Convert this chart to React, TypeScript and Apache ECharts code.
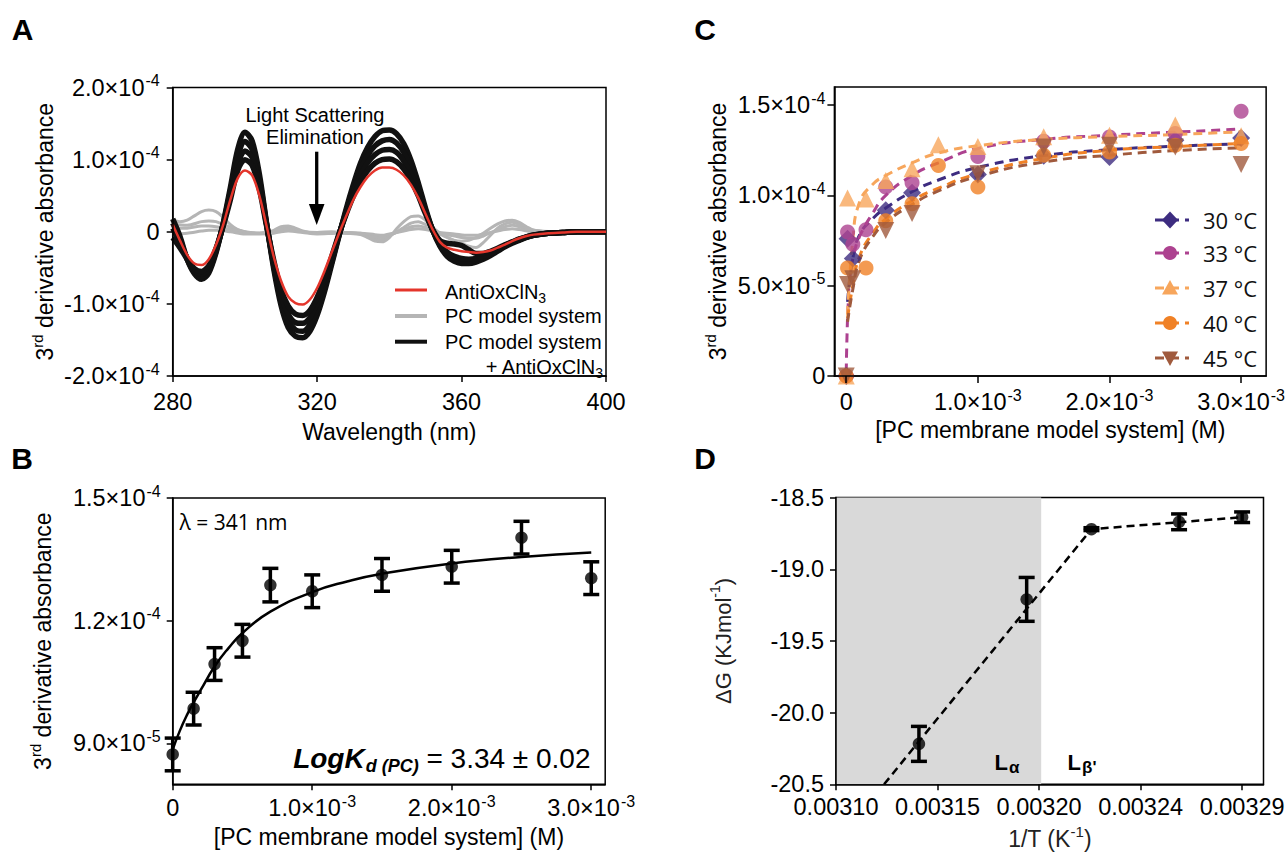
import React, { useEffect, useRef } from "react";
import * as echarts from "echarts";

const FONT = '"Liberation Sans", Arial, Helvetica, sans-serif';
const FONT2 = '"Open Sans", "Liberation Sans", sans-serif';

// ---------------- Panel A : 3rd derivative spectra (values in units of 1e-4) ----------------
const wavelengths = [280,282,284,286,288,290,292,294,296,298,300,302,304,306,308,310,312,314,316,318,320,322,324,326,328,330,332,334,336,338,340,342,344,346,348,350,352,354,356,358,360,362,364,366,368,370,372,374,376,378,380,384,388,392,396,400];
const antiOxSpectrum = [0.10,-0.12,-0.32,-0.44,-0.46,-0.38,-0.18,0.10,0.45,0.74,
  0.85,0.78,0.50,0.08,-0.35,-0.68,-0.90,-0.99,-1.01,-0.94,
  -0.78,-0.55,-0.29,-0.03,0.21,0.44,0.62,0.76,0.85,0.89,
  0.89,0.86,0.78,0.65,0.47,0.25,0.03,-0.14,-0.22,-0.25,
  -0.27,-0.28,-0.29,-0.28,-0.26,-0.22,-0.18,-0.13,-0.09,-0.06,
  -0.04,-0.02,-0.01,0,0,0];
const mixSpectrum1 = [0.18,-0.06,-0.38,-0.58,-0.66,-0.57,-0.29,0.12,0.62,1.14,
  1.38,1.26,0.80,0.12,-0.52,-1.02,-1.33,-1.45,-1.47,-1.38,
  -1.16,-0.84,-0.46,-0.07,0.31,0.65,0.95,1.17,1.32,1.40,
  1.41,1.36,1.22,0.99,0.68,0.33,0.02,-0.20,-0.34,-0.41,
  -0.44,-0.44,-0.42,-0.38,-0.33,-0.27,-0.21,-0.16,-0.12,-0.08,
  -0.05,-0.02,-0.01,0,0,0];
const mixSpectrum2 = [0.12,-0.10,-0.38,-0.56,-0.63,-0.54,-0.27,0.11,0.57,1.04,
  1.25,1.14,0.73,0.11,-0.48,-0.95,-1.23,-1.36,-1.38,-1.29,
  -1.08,-0.78,-0.43,-0.06,0.28,0.59,0.86,1.06,1.19,1.26,
  1.28,1.23,1.10,0.90,0.62,0.30,0.02,-0.18,-0.31,-0.38,
  -0.41,-0.41,-0.39,-0.36,-0.31,-0.26,-0.20,-0.15,-0.11,-0.075,
  -0.05,-0.02,-0.01,0,0,0];
const mixSpectrum3 = [0.05,-0.15,-0.37,-0.53,-0.59,-0.51,-0.25,0.10,0.51,0.94,
  1.12,1.03,0.66,0.10,-0.45,-0.88,-1.14,-1.26,-1.27,-1.19,
  -0.99,-0.71,-0.39,-0.05,0.26,0.54,0.78,0.96,1.07,1.13,
  1.14,1.10,0.98,0.80,0.56,0.28,0.02,-0.16,-0.28,-0.34,
  -0.37,-0.38,-0.37,-0.34,-0.30,-0.25,-0.19,-0.145,-0.105,-0.07,
  -0.045,-0.02,-0.01,0,0,0];
const mixSpectrum4 = [-0.08,-0.22,-0.38,-0.51,-0.55,-0.47,-0.23,0.08,0.45,0.85,
  1.00,0.92,0.59,0.08,-0.40,-0.80,-1.03,-1.14,-1.16,-1.09,
  -0.91,-0.65,-0.35,-0.04,0.24,0.49,0.70,0.85,0.95,1.00,
  1.01,0.97,0.87,0.71,0.50,0.25,0.03,-0.12,-0.16,-0.17,
  -0.19,-0.25,-0.30,-0.30,-0.27,-0.23,-0.18,-0.14,-0.10,-0.07,
  -0.045,-0.02,-0.01,0,0,0];
const pcWl1 = [280,282,284,286,288,290,292,294,296,298,300,302,304,306,308,310,312,314,316,318,320,324,328,332,334,336,338,340,342,344,346,348,350,352,354,356,358,360,362,364,366,368,370,372,374,376,378,380,384,390,400];
const pcSpectrum1 = [0.16,0.14,0.16,0.22,0.28,0.30,0.28,0.20,0.10,0.03,0.0,-0.02,-0.02,-0.01,0.02,0.07,0.08,0.05,0.01,-0.01,-0.01,0.0,-0.02,-0.04,-0.08,-0.13,-0.14,-0.08,0.04,0.14,0.21,0.22,0.16,0.06,-0.02,-0.08,-0.12,-0.13,-0.12,-0.08,-0.02,0.05,0.11,0.15,0.16,0.13,0.07,0.02,0.0,0,0];
const pcWl = [280,284,288,290,292,296,300,304,308,310,312,316,320,326,332,336,338,340,344,346,348,350,354,358,362,364,366,370,372,374,376,380,386,400];
const pcSpectrum2 = [0.10,0.09,0.14,0.15,0.14,0.06,0.0,-0.02,0.0,0.04,0.05,0.0,-0.02,-0.01,-0.03,-0.10,-0.11,-0.06,0.06,0.12,0.14,0.10,-0.03,-0.12,-0.20,-0.22,-0.15,0.05,0.11,0.13,0.10,0.02,0.0,0];
const pcSpectrum3 = [0.05,0.05,0.08,0.08,0.07,0.03,-0.01,-0.02,0.0,0.03,0.04,0.0,-0.01,-0.01,-0.02,-0.07,-0.08,-0.05,0.03,0.07,0.08,0.06,-0.02,-0.06,-0.09,-0.09,-0.06,0.03,0.07,0.09,0.07,0.01,0.0,0];
const pcSpectrum4 = [-0.03,-0.02,0.01,0.02,0.02,0.0,-0.03,-0.03,-0.02,0.0,0.01,-0.01,-0.03,-0.02,-0.02,-0.04,-0.05,-0.03,0.01,0.03,0.04,0.03,-0.01,-0.03,-0.05,-0.05,-0.03,0.01,0.03,0.04,0.03,0.0,0.0,0];

// ---------------- Panel B : titration at 341 nm ----------------
const bConc = [0, 1.5e-4, 3e-4, 5e-4, 7e-4, 1e-3, 1.5e-3, 2e-3, 2.5e-3, 3e-3];
const bAbs = [8.73e-5, 9.85e-5, 1.094e-4, 1.151e-4, 1.287e-4, 1.272e-4, 1.312e-4, 1.332e-4, 1.403e-4, 1.304e-4];
const bErr = [4.0e-6, 4.0e-6, 4.0e-6, 4.0e-6, 4.1e-6, 4.0e-6, 4.0e-6, 4.0e-6, 4.0e-6, 4.0e-6];
const bFitConc = [0, 5e-5, 1e-4, 1.5e-4, 2e-4, 3e-4, 4e-4, 5e-4, 7e-4, 1e-3, 1.25e-3, 1.5e-3, 2e-3, 2.5e-3, 3e-3];
const bFitAbs = [8.85e-5, 9.3e-5, 9.68e-5, 1.0e-4, 1.03e-4, 1.088e-4, 1.133e-4, 1.17e-4, 1.222e-4, 1.27e-4, 1.296e-4, 1.315e-4, 1.34e-4, 1.356e-4, 1.367e-4];
const bYTicks = [9e-5, 1.2e-4, 1.5e-4];
const concTicks = [0, 1e-3, 2e-3, 3e-3];

// ---------------- Panel C : temperatures ----------------
const cTemps = ["30 °C", "33 °C", "37 °C", "40 °C", "45 °C"];
const cConc = [0, 1e-5, 5e-5, 1.5e-4, 3e-4, 5e-4, 7e-4, 1e-3, 1.5e-3, 2e-3, 2.5e-3, 3e-3];
const c30 = [0, 7.6e-5, 6.5e-5, null, 9.17e-5, 1.015e-4, null, 1.115e-4, 1.22e-4, 1.213e-4, 1.305e-4, 1.318e-4];
const c33 = [0, 7.97e-5, 7.3e-5, 8.1e-5, 1.046e-4, 1.07e-4, null, 1.215e-4, 1.3e-4, 1.323e-4, 1.342e-4, 1.466e-4];
const c37 = [0, 9.85e-5, null, 9.8e-5, 1.083e-4, 1.148e-4, 1.28e-4, 1.271e-4, 1.324e-4, 1.333e-4, 1.39e-4, 1.33e-4];
const c40 = [0, 5.98e-5, null, 5.98e-5, 8.6e-5, 9.54e-5, 1.166e-4, 1.046e-4, 1.222e-4, 1.24e-4, 1.277e-4, 1.287e-4];
const c45 = [0, 5.06e-5, 5.39e-5, null, 8.06e-5, 8.99e-5, null, 1.12e-4, 1.268e-4, 1.277e-4, 1.268e-4, 1.171e-4];
const cFitConc = [1e-5, 5e-5, 1e-4, 2e-4, 3e-4, 5e-4, 7e-4, 1e-3, 1.5e-3, 2e-3, 2.5e-3, 3e-3];
const fit30 = [4.1e-5, 6.5e-5, 7.8e-5, 8.7e-5, 9.3e-5, 1.02e-4, 1.085e-4, 1.155e-4, 1.22e-4, 1.253e-4, 1.272e-4, 1.285e-4];
const fit37 = [3.4e-5, 7.5e-5, 9.6e-5, 1.06e-4, 1.11e-4, 1.18e-4, 1.235e-4, 1.275e-4, 1.31e-4, 1.325e-4, 1.337e-4, 1.352e-4];
const fit40 = [3.2e-5, 5.0e-5, 6.6e-5, 7.9e-5, 8.7e-5, 9.7e-5, 1.04e-4, 1.12e-4, 1.205e-4, 1.25e-4, 1.27e-4, 1.287e-4];
const fit45 = [3.0e-5, 4.8e-5, 6.4e-5, 7.7e-5, 8.5e-5, 9.5e-5, 1.025e-4, 1.105e-4, 1.185e-4, 1.222e-4, 1.248e-4, 1.263e-4];
const fit33Conc = [0, 5e-6, 1.5e-5, 3e-5, 6e-5, 1e-4, 2e-4, 3e-4, 5e-4, 7e-4, 1e-3, 1.5e-3, 2e-3, 2.5e-3, 3e-3];
const fit33 = [2e-6, 2.0e-5, 4.0e-5, 5.6e-5, 6.8e-5, 7.7e-5, 9.0e-5, 1.0e-4, 1.11e-4, 1.18e-4, 1.26e-4, 1.31e-4, 1.333e-4, 1.35e-4, 1.368e-4];
const cYTicks = [0, 5e-5, 1e-4, 1.5e-4];

// ---------------- Panel D : van 't Hoff ----------------
const dInvT = [0.0031388, 0.0031892, 0.0032195, 0.0032605, 0.00329];
const dDeltaG = [-20.218, -19.21, -18.72, -18.669, -18.637];
const dErr = [0.122, 0.153, 0.01, 0.055, 0.037];
const dFitInvT = [0.0031225, 0.0032195, 0.00329];
const dFitDeltaG = [-20.5, -18.72, -18.637];
const dTickValues = [0.0031, 0.0031475, 0.003195, 0.0032425, 0.00329];
const dTickLabels = ["0.00310", "0.00315", "0.00320", "0.00324", "0.00329"];
const dPhaseBoundary = 0.003196;

// ---------------- helpers ----------------
const zip = (xs: number[], ys: (number | null)[]) =>
  xs.map((x, i) => (ys[i] == null ? null : [x, ys[i]])).filter((d) => d !== null);

function sciLabel(v: number): string {
  if (Math.abs(v) < 1e-15) return "{n|0}";
  const [m, e] = v.toExponential(1).split("e");
  return `{n|${m}×10}{sup|${e.replace("+", "")}}`;
}

const TICK_FS = 23.5;
const labelRich = {
  n: { fontSize: TICK_FS, lineHeight: 30, fontFamily: FONT, color: "#000" },
  sup: { fontSize: 16, lineHeight: 15, padding: [0, 0, 15, 1], verticalAlign: "top", fontFamily: FONT, color: "#000" },
};
const nameRich = (fs: number, color = "#000") => ({
  n: { fontSize: fs, lineHeight: 30, fontFamily: FONT, color },
  sup: { fontSize: Math.round(fs * 0.65), lineHeight: 15, padding: [0, 0, 15, 0], verticalAlign: "top", fontFamily: FONT, color },
});

function axis(gridIndex: number, o: any) {
  return {
    gridIndex,
    type: "value",
    z: 5,
    min: o.min,
    max: o.max,
    interval: o.interval,
    name: o.name,
    nameLocation: "middle",
    nameGap: o.nameGap,
    nameTextStyle: { fontFamily: FONT, rich: nameRich(o.nameSize || 23, o.nameColor || "#000") },
    axisLine: { show: true, onZero: false, lineStyle: { color: "#000", width: 1.5 } },
    axisTick: { show: true, inside: false, length: o.tickLen || 6, lineStyle: { color: "#000", width: 1.5 }, customValues: o.custom },
    splitLine: { show: false },
    axisLabel: {
      show: true,
      margin: o.margin,
      formatter: o.formatter,
      customValues: o.custom,
      fontFamily: FONT,
      fontSize: TICK_FS,
      color: "#000",
      rich: labelRich,
    },
  };
}

function errorSeries(xi: number, xs: number[], ys: number[], es: number[], cap: number) {
  return {
    type: "custom",
    xAxisIndex: xi,
    yAxisIndex: xi,
    z: 4,
    silent: true,
    data: xs.map((x, i) => [x, ys[i], es[i]]),
    encode: { x: 0, y: 1 },
    renderItem: (_p: any, api: any) => {
      const x = api.value(0), y = api.value(1), e = api.value(2);
      const p1 = api.coord([x, y + e]);
      const p2 = api.coord([x, y - e]);
      const st = { stroke: "#000", lineWidth: 3.5 };
      return {
        type: "group",
        children: [
          { type: "line", shape: { x1: p1[0], y1: p1[1], x2: p2[0], y2: p2[1] }, style: st },
          { type: "line", shape: { x1: p1[0] - cap, y1: p1[1], x2: p1[0] + cap, y2: p1[1] }, style: st },
          { type: "line", shape: { x1: p2[0] - cap, y1: p2[1], x2: p2[0] + cap, y2: p2[1] }, style: st },
        ],
      };
    },
  };
}

const cColors = ["#3d2c80", "#ad4290", "#f7a65c", "#f08126", "#a05a3d"];
const cSymbols = ["diamond", "circle", "triangle", "circle", "triangle"];
const cSymbolSize = [18, 15, 17, 15, 17];
const cRotate = [0, 0, 0, 0, 180];

function buildOption() {
  const gridBase = { show: true, borderColor: "#000", borderWidth: 1.5, containLabel: false };
  const grids = [
    { ...gridBase, left: 172.7, top: 87.5, width: 433.3, height: 288.5 },
    { ...gridBase, left: 172.7, top: 498, width: 432.5, height: 286.3 },
    { ...gridBase, left: 834.4, top: 87, width: 432, height: 289 },
    { ...gridBase, left: 836, top: 497.6, width: 427.5, height: 286.7 },
  ];

  const xAxes = [
    axis(0, { min: 280, max: 400, interval: 40, name: "{n|Wavelength (nm)}", nameGap: 41, margin: 11, formatter: (v: number) => `{n|${v}}` }),
    axis(1, { min: 0, max: 3.1e-3, custom: concTicks, name: "{n|[PC membrane model system] (M)}", nameGap: 38, margin: 9, formatter: (v: number) => sciLabel(v) }),
    axis(2, { min: -9e-5, max: 3.19e-3, custom: concTicks, name: "{n|[PC membrane model system] (M)}", nameGap: 39, margin: 11, tickLen: 7, formatter: (v: number) => sciLabel(v) }),
    axis(3, {
      min: 0.0031, max: 0.0033, custom: dTickValues, name: "{n|1/T (K}{sup|-1}{n|)}", nameGap: 40, nameSize: 23, nameColor: "#222", margin: 8,
      formatter: (v: number) => {
        let best = 0;
        dTickValues.forEach((t, i) => { if (Math.abs(t - v) < Math.abs(dTickValues[best] - v)) best = i; });
        return `{n|${dTickLabels[best]}}`;
      },
    }),
  ];
  const yAxes = [
    axis(0, { min: -2, max: 2, interval: 1, name: "{n|3}{sup|rd}{n| derivative absorbance}", nameGap: 113, margin: 13, formatter: (v: number) => sciLabel(v * 1e-4) }),
    axis(1, { min: 8e-5, max: 1.5e-4, custom: bYTicks, name: "{n|3}{sup|rd}{n| derivative absorbance}", nameGap: 115, margin: 12, formatter: (v: number) => sciLabel(v) }),
    axis(2, { min: 0, max: 1.6e-4, custom: cYTicks, name: "{n|3}{sup|rd}{n| derivative absorbance}", nameGap: 101, margin: 9, tickLen: 7, formatter: (v: number) => sciLabel(v) }),
    axis(3, { min: -20.5, max: -18.5, interval: 0.5, name: "{n|ΔG (KJmol}{sup|-1}{n|)}", nameGap: 98, nameSize: 22, nameColor: "#222", margin: 12, formatter: (v: number) => `{n|${v.toFixed(1)}}` }),
  ];

  const series: any[] = [];
  const lineA = (xs: number[], ys: number[], color: string, width: number) => ({
    type: "line", xAxisIndex: 0, yAxisIndex: 0, data: zip(xs, ys), showSymbol: false, smooth: 0.3, silent: true,
    lineStyle: { color, width }, z: 2,
  });
  series.push(lineA(pcWl1, pcSpectrum1, "#b5b5b5", 3));
  series.push(lineA(pcWl, pcSpectrum2, "#b5b5b5", 3));
  series.push(lineA(pcWl, pcSpectrum3, "#b5b5b5", 3));
  series.push(lineA(pcWl, pcSpectrum4, "#b5b5b5", 3));
  [mixSpectrum1, mixSpectrum2, mixSpectrum3, mixSpectrum4].forEach((s) => series.push(lineA(wavelengths, s, "#111", 5.5)));
  series.push(lineA(wavelengths, antiOxSpectrum, "#e4352b", 2.5));

  // B
  series.push({ type: "line", xAxisIndex: 1, yAxisIndex: 1, data: zip(bFitConc, bFitAbs), showSymbol: false, smooth: 0.5, silent: true, lineStyle: { color: "#000", width: 2.5 } });
  series.push(errorSeries(1, bConc, bAbs, bErr, 8));
  series.push({ type: "scatter", xAxisIndex: 1, yAxisIndex: 1, data: zip(bConc, bAbs), symbol: "circle", symbolSize: 12.5, itemStyle: { color: "#000" }, z: 5, silent: true });

  // C
  const fits = [[cFitConc, fit30], [fit33Conc, fit33], [cFitConc, fit37], [cFitConc, fit40], [cFitConc, fit45]];
  const pts = [c30, c33, c37, c40, c45];
  fits.forEach((f, i) => {
    series.push({ type: "line", xAxisIndex: 2, yAxisIndex: 2, data: zip(f[0] as number[], f[1] as number[]), showSymbol: false, smooth: 0.5, silent: true, lineStyle: { color: cColors[i], width: 3, type: [9, 6] }, z: 3 });
  });
  pts.forEach((p, i) => {
    series.push({ type: "scatter", xAxisIndex: 2, yAxisIndex: 2, data: zip(cConc, p), symbol: cSymbols[i], symbolSize: cSymbolSize[i], symbolRotate: cRotate[i], itemStyle: { color: cColors[i] }, z: 4, silent: true });
  });

  // D
  series.push({
    type: "line", xAxisIndex: 3, yAxisIndex: 3, data: zip(dFitInvT, dFitDeltaG), showSymbol: false, silent: true,
    lineStyle: { color: "#000", width: 2.5, type: [8, 5] }, z: 3,
    markArea: { silent: true, itemStyle: { color: "#d9d9d9" }, data: [[{ xAxis: dTickValues[0] }, { xAxis: dPhaseBoundary }]] },
  });
  series.push(errorSeries(3, dInvT, dDeltaG, dErr, 8));
  series.push({ type: "scatter", xAxisIndex: 3, yAxisIndex: 3, data: zip(dInvT, dDeltaG), symbol: "circle", symbolSize: 12.5, itemStyle: { color: "#000" }, z: 5, silent: true });

  // ---------------- graphics ----------------
  const txt = (text: string, x: number, y: number, extra: any = {}) => ({
    type: "text", silent: true, z: 10,
    style: { text, x, y, fill: "#000", fontFamily: FONT, fontSize: 20, textAlign: "left", align: "left", textVerticalAlign: "middle", verticalAlign: "middle", ...extra },
  });
  const g: any[] = [];
  [["A", 22.5, 29], ["B", 22, 458], ["C", 705, 29], ["D", 705, 458]].forEach(([t, x, y]) =>
    g.push(txt(t as string, x as number, y as number, { fontSize: 30, fontWeight: "bold", textAlign: "center", align: "center" })));

  // A annotation
  g.push(txt("Light Scattering", 315, 115, { fontSize: 20, textAlign: "center", align: "center" }));
  g.push(txt("Elimination", 315, 137, { fontSize: 20, textAlign: "center", align: "center" }));
  g.push({ type: "line", silent: true, z: 10, shape: { x1: 316.7, y1: 151.7, x2: 316.7, y2: 207 }, style: { stroke: "#000", lineWidth: 3.3 } });
  g.push({ type: "polygon", silent: true, z: 10, shape: { points: [[308.9, 204], [324.5, 204], [316.7, 225]] }, style: { fill: "#000" } });

  // A legend
  const subRich = {
    n: { fontSize: 20, lineHeight: 26, fontFamily: FONT, color: "#000" },
    sub: { fontSize: 14, lineHeight: 14, padding: [12, 0, 0, 0], verticalAlign: "bottom", fontFamily: FONT, color: "#000" },
  };
  g.push({ type: "line", silent: true, z: 10, shape: { x1: 395, y1: 290, x2: 427, y2: 290 }, style: { stroke: "#e4352b", lineWidth: 3 } });
  g.push({ type: "line", silent: true, z: 10, shape: { x1: 395, y1: 316, x2: 427, y2: 316 }, style: { stroke: "#b5b5b5", lineWidth: 4 } });
  g.push({ type: "line", silent: true, z: 10, shape: { x1: 395, y1: 341.7, x2: 427, y2: 341.7 }, style: { stroke: "#111", lineWidth: 4 } });
  g.push(txt("{n|AntiOxClN}{sub|3}", 445, 292, { rich: subRich }));
  g.push(txt("{n|PC model system}", 445, 316, { rich: subRich }));
  g.push(txt("{n|PC model system}", 445, 341.7, { rich: subRich }));
  g.push(txt("{n|+ AntiOxClN}{sub|3}", 603, 367, { rich: subRich, textAlign: "right", align: "right" }));

  // B annotations
  g.push(txt("λ = 341 nm", 179.6, 522, { fontFamily: FONT2, fontSize: 21 }));
  g.push(txt("{b|LogK}{s|d (PC)}{r| = 3.34 ± 0.02}", 590.5, 758, {
    textAlign: "right", align: "right",
    rich: {
      b: { fontSize: 28, fontWeight: "bold", fontStyle: "italic", lineHeight: 34, fontFamily: FONT, color: "#000" },
      s: { fontSize: 18, fontWeight: "bold", fontStyle: "italic", lineHeight: 18, padding: [16, 0, 0, 1], verticalAlign: "bottom", fontFamily: FONT, color: "#000" },
      r: { fontSize: 28, lineHeight: 34, fontFamily: FONT, color: "#000" },
    },
  }));

  // C legend
  const rows = [220, 253, 288, 323, 358];
  rows.forEach((y, i) => {
    const c = cColors[i];
    g.push({ type: "line", silent: true, z: 10, shape: { x1: 1155, y1: y, x2: 1189, y2: y }, style: { stroke: c, lineWidth: 3, lineDash: [9, 6] } });
    const cx = 1170;
    if (cSymbols[i] === "circle") {
      g.push({ type: "circle", silent: true, z: 11, shape: { cx, cy: y, r: 7 }, style: { fill: c } });
    } else if (cSymbols[i] === "diamond") {
      g.push({ type: "polygon", silent: true, z: 11, shape: { points: [[cx, y - 8.5], [cx + 8, y], [cx, y + 8.5], [cx - 8, y]] }, style: { fill: c } });
    } else if (cRotate[i] === 180) {
      g.push({ type: "polygon", silent: true, z: 11, shape: { points: [[cx - 8, y - 6.5], [cx + 8, y - 6.5], [cx, y + 8]] }, style: { fill: c } });
    } else {
      g.push({ type: "polygon", silent: true, z: 11, shape: { points: [[cx, y - 8], [cx + 8, y + 6.5], [cx - 8, y + 6.5]] }, style: { fill: c } });
    }
    g.push(txt(cTemps[i], 1203, y, { fontFamily: FONT2, fontSize: 22, fill: "#111" }));
  });

  // D phase labels
  const phRich = {
    L: { fontSize: 22, fontWeight: "bold", lineHeight: 28, fontFamily: FONT, color: "#000" },
    s: { fontSize: 17, fontWeight: "bold", lineHeight: 16, padding: [12, 0, 0, 1], verticalAlign: "bottom", fontFamily: FONT, color: "#000" },
  };
  g.push(txt("{L|L}{s|α}", 1007, 762, { rich: phRich, textAlign: "center", align: "center" }));
  g.push(txt("{L|L}{s|β'}", 1082, 762, { rich: phRich, textAlign: "center", align: "center" }));

  return {
    animation: false,
    backgroundColor: "#fff",
    textStyle: { fontFamily: FONT },
    grid: grids,
    xAxis: xAxes,
    yAxis: yAxes,
    series,
    graphic: g,
  };
}

export default function App() {
  const ref = useRef<HTMLDivElement>(null);
  useEffect(() => {
    document.body.style.margin = "0";
    const chart = echarts.init(ref.current as HTMLDivElement, null, { renderer: "svg" });
    chart.setOption(buildOption() as any);
    return () => chart.dispose();
  }, []);
  return <div ref={ref} style={{ width: 1288, height: 861 }} />;
}
